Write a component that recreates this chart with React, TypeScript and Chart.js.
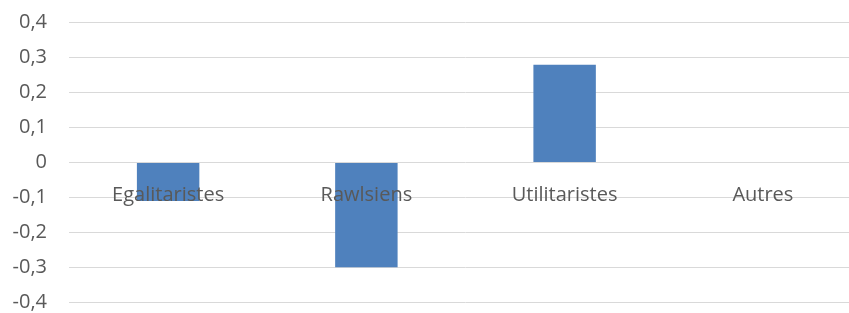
import React, { useEffect, useRef } from "react";
import { Chart, registerables } from "chart.js";

Chart.register(...registerables);

const categories = ["Egalitaristes", "Rawlsiens", "Utilitaristes", "Autres"];
const values = [-0.11, -0.3, 0.28, 0];
const yMin = -0.4;
const yMax = 0.4;
const yStep = 0.1;

const FONT = "'Open Sans', sans-serif";
const TEXT = "#595959";
const GRID = "#d9d9d9";
const BAR = "#4f81bd";

function fmt(v: number): string {
  const r = Math.round(v * 10) / 10;
  if (r === 0) return "0";
  return r.toFixed(1).replace(".", ",");
}

export default function App() {
  const ref = useRef<HTMLCanvasElement | null>(null);
  useEffect(() => {
    document.body.style.overflow = "hidden";
    const ctx = ref.current!;
    const chart = new Chart(ctx, {
      type: "bar",
      data: {
        labels: categories,
        datasets: [
          {
            data: values,
            backgroundColor: BAR,
            borderWidth: 0,
            categoryPercentage: 1,
            barPercentage: 0.315,
          },
        ],
      },
      options: {
        animation: false,
        responsive: true,
        maintainAspectRatio: false,
        layout: { padding: { top: 22.7, bottom: 10.7, left: 0, right: 0 } },
        plugins: { legend: { display: false }, tooltip: { enabled: false } },
        scales: {
          x: {
            type: "category",
            position: { y: 0 } as any,
            grid: { display: false, drawTicks: false },
            border: { display: false },
            afterFit: (s: any) => {
              s.height = 0;
              s.paddingTop = 0;
              s.paddingBottom = 0;
            },
            ticks: {
              z: 1,
              color: TEXT,
              font: { family: FONT, size: 20 },
              padding: 21,
              maxRotation: 0,
              autoSkip: false,
            },
          } as any,
          y: {
            min: yMin,
            max: yMax,
            grid: { color: GRID, lineWidth: 1, drawTicks: false },
            border: { display: false },
            afterFit: (s: any) => {
              s.width = 69;
              s.paddingTop = 0;
              s.paddingBottom = 0;
            },
            ticks: {
              stepSize: yStep,
              color: TEXT,
              font: { family: FONT, size: 20 },
              padding: 22,
              callback: (v: any) => fmt(Number(v)),
            },
          },
        },
      },
    });
    return () => chart.destroy();
  }, []);
  return (
    <div style={{ position: "absolute", left: 0, top: 0, width: 862, height: 313 }}>
      <canvas ref={ref} />
    </div>
  );
}
